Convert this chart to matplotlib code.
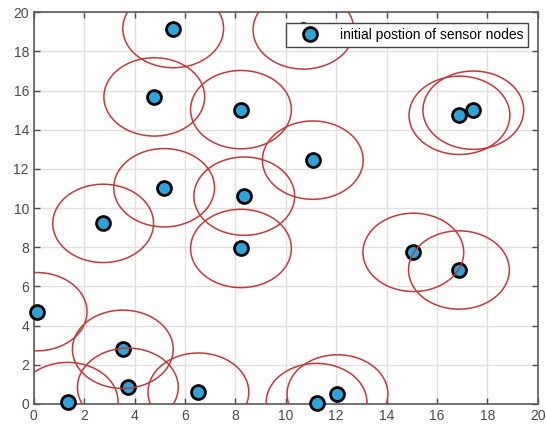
import matplotlib
matplotlib.use("Agg")
import matplotlib.pyplot as plt
from matplotlib.patches import Circle

plt.rcParams['font.family'] = ['Liberation Sans', 'DejaVu Sans']

# sensor node positions
node_x = [5.53, 4.78, 8.22, 11.07, 5.17, 8.35, 2.75, 8.22, 0.11, 3.53,
          3.73, 1.34, 6.53, 11.22, 12.05, 15.06, 16.87, 16.89, 17.44, 10.7]
node_y = [19.17, 15.68, 15.03, 12.45, 11.04, 10.61, 9.22, 7.94, 4.71, 2.79,
          0.85, 0.12, 0.60, 0.07, 0.51, 7.74, 6.84, 14.74, 15.0, 19.1]
sensing_radius = 2.0

fig = plt.figure(figsize=(5.46, 4.32), dpi=100)
ax = fig.add_axes([0.062, 0.065, 0.923, 0.9065])

ax.plot(node_x, node_y, 'o', markersize=10, markerfacecolor='#2ba4d9',
        markeredgecolor='black', markeredgewidth=2, clip_on=False, zorder=3,
        label='initial postion of sensor nodes')

for x, y in zip(node_x, node_y):
    c = Circle((x, y), sensing_radius, fill=False, edgecolor='#c0393b',
               linewidth=1.1, zorder=4)
    ax.add_patch(c)

ax.set_xlim(0, 20)
ax.set_ylim(0, 20)
ax.set_xticks(range(0, 21, 2))
ax.set_yticks(range(0, 21, 2))
ax.grid(True, color='#e0e0e0', linewidth=1.0)
ax.set_axisbelow(True)
ax.tick_params(direction='in', top=True, right=True, length=4,
               labelsize=10, colors='#4a4a4a', width=1)
for s in ax.spines.values():
    s.set_color('#5a5a5a')
    s.set_linewidth(1.2)

leg = ax.legend(loc='upper right', bbox_to_anchor=(0.9676, 0.946),
                bbox_transform=fig.transFigure, borderaxespad=0,
                fontsize=10, fancybox=False, framealpha=1,
                edgecolor='#444444', handlelength=2.7, handletextpad=0.8,
                borderpad=0.35)
leg.set_zorder(10)
leg.get_frame().set_linewidth(1.0)

fig.savefig('out.png', dpi=100)
